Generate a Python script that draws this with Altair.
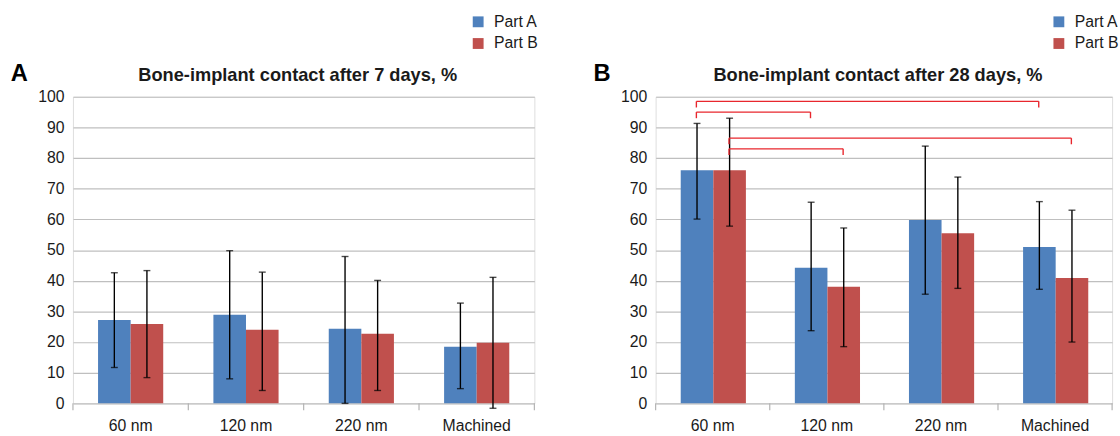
import altair as alt
import pandas as pd

FONT = "Liberation Sans"
TXT = "#1a1a1a"

categories = ["60 nm", "120 nm", "220 nm", "Machined"]
series = ["Part A", "Part B"]
colors = ["#4f81bd", "#c0504d"]

# 7 days
d7_a = [27.2, 28.9, 24.3, 18.5]
d7_a_lo = [11.7, 8.0, 0.0, 4.8]
d7_a_hi = [42.6, 49.8, 47.9, 32.7]
d7_b = [25.9, 24.0, 22.7, 19.8]
d7_b_lo = [8.4, 4.2, 4.2, -1.6]
d7_b_hi = [43.3, 42.8, 40.1, 41.1]

# 28 days
d28_a = [76.0, 44.2, 59.8, 51.0]
d28_a_lo = [60.1, 23.7, 35.6, 37.2]
d28_a_hi = [91.3, 65.6, 83.9, 65.8]
d28_b = [76.0, 38.0, 55.5, 40.9]
d28_b_lo = [57.8, 18.5, 37.5, 20.0]
d28_b_hi = [93.0, 57.2, 73.8, 63.0]

# significance brackets on day 28
br_from = ["60 nm", "60 nm", "60 nm", "60 nm"]
br_to = ["Machined", "120 nm", "Machined", "120 nm"]
br_series = ["Part A", "Part A", "Part B", "Part B"]
br_level = [98.5, 95.0, 86.5, 83.0]
br_drop = 2.0

H = 311
BAR_HALF = 0.143


def panel(a, a_lo, a_hi, b, b_lo, b_hi, title, letter, width, legend_x, brackets):
    rows = []
    for s, v, lo, hi in [(series[0], a, a_lo, a_hi), (series[1], b, b_lo, b_hi)]:
        for c, vv, l, h in zip(categories, v, lo, hi):
            rows.append({"cat": c, "series": s, "value": vv, "lo": l, "hi": h})
    df = pd.DataFrame(rows)

    yscale = alt.Scale(domain=[0, 100], nice=False, zero=True)
    yaxis = alt.Axis(values=list(range(0, 101, 10)), title=None, ticks=False, domain=False,
                     grid=True, gridColor="#bfbfbf", gridWidth=1.2, labelPadding=9,
                     labelFont=FONT, labelFontSize=16, labelColor=TXT)
    xscale = alt.Scale(paddingInner=0, paddingOuter=0)
    xaxis = alt.Axis(title=None, labelAngle=0, ticks=False, domain=False, grid=False,
                     labelPadding=15, labelFont=FONT, labelFontSize=16, labelColor=TXT)
    xenc = alt.X("cat:N", sort=categories, scale=xscale, axis=xaxis)
    xoff = alt.XOffset("series:N", sort=series, scale=alt.Scale(paddingInner=0, paddingOuter=0.77))

    base = alt.Chart(df)
    bars = base.mark_bar().encode(
        x=xenc, xOffset=xoff,
        y=alt.Y("value:Q", scale=yscale, axis=yaxis),
        color=alt.Color("series:N", scale=alt.Scale(domain=series, range=colors),
                        legend=alt.Legend(title=None, orient="none", legendX=legend_x, legendY=-84,
                                          symbolType="square", symbolSize=121, symbolStrokeWidth=0,
                                          labelFont=FONT, labelFontSize=16, labelColor=TXT,
                                          rowPadding=6, labelOffset=8, direction="vertical")),
    )
    err = base.mark_rule(color="black", strokeWidth=1.4).encode(
        x=xenc, xOffset=xoff, y=alt.Y("lo:Q", scale=yscale, axis=yaxis), y2="hi:Q")
    cap_lo = base.mark_tick(color="black", size=7, thickness=1.4, orient="horizontal").encode(
        x=xenc, xOffset=xoff, y=alt.Y("lo:Q", scale=yscale, axis=yaxis))
    cap_hi = base.mark_tick(color="black", size=7, thickness=1.4, orient="horizontal").encode(
        x=xenc, xOffset=xoff, y=alt.Y("hi:Q", scale=yscale, axis=yaxis))
    inner = alt.layer(bars, err, cap_lo, cap_hi)

    xq_scale = alt.Scale(domain=[0, 4], nice=False, zero=False)
    bounds = pd.DataFrame({"b": list(range(len(categories) + 1))})
    ticks = alt.Chart(bounds).mark_rule(color="#b3b3b3", strokeWidth=1.2).encode(
        x=alt.X("b:Q", scale=xq_scale, axis=None), y=alt.value(H), y2=alt.value(H + 7))

    letter_df = pd.DataFrame({"t": [letter]})
    let = alt.Chart(letter_df).mark_text(fontSize=24, fontWeight="bold", font=FONT, color="black",
                                         align="left", baseline="middle").encode(
        text="t:N", x=alt.value(-63), y=alt.value(-23))

    title_df = pd.DataFrame({"t": [title]})
    ttl = alt.Chart(title_df).mark_text(fontSize=18.5, fontWeight="bold", font=FONT, color=TXT,
                                        align="center", baseline="alphabetic").encode(
        text="t:N", x=alt.value(width / 2 - 6), y=alt.value(-16))

    layers = [inner, ticks]
    if brackets:
        def center(cat, s):
            return categories.index(cat) + 0.5 + (-BAR_HALF if s == series[0] else BAR_HALF)
        hrows, vrows = [], []
        for f, t, s, lv in zip(br_from, br_to, br_series, br_level):
            x1, x2 = center(f, s), center(t, s)
            hrows.append({"x": x1, "x2": x2, "y": lv})
            vrows.append({"x": x1, "y": lv, "y2": lv - br_drop})
            vrows.append({"x": x2, "y": lv, "y2": lv - br_drop})
        hdf = pd.DataFrame(hrows)
        vdf = pd.DataFrame(vrows)
        hl = alt.Chart(hdf).mark_rule(color="#e8262d", strokeWidth=1.4).encode(
            x=alt.X("x:Q", scale=xq_scale, axis=None), x2="x2:Q",
            y=alt.Y("y:Q", scale=yscale, axis=yaxis))
        vl = alt.Chart(vdf).mark_rule(color="#e8262d", strokeWidth=1.4).encode(
            x=alt.X("x:Q", scale=xq_scale, axis=None),
            y=alt.Y("y:Q", scale=yscale, axis=yaxis), y2="y2:Q")
        layers += [hl, vl]
    layers += [let, ttl]

    return alt.layer(*layers).resolve_scale(x="independent").properties(width=width, height=H)


left = panel(d7_a, d7_a_lo, d7_a_hi, d7_b, d7_b_lo, d7_b_hi,
             "Bone-implant contact after 7 days, %", "A", 468, 403, False)
right = panel(d28_a, d28_a_lo, d28_a_hi, d28_b, d28_b_lo, d28_b_hi,
              "Bone-implant contact after 28 days, %", "B", 463, 401, True)

chart = alt.hconcat(left, right, spacing=54).resolve_scale(color="independent").resolve_legend(
    color="independent"
).properties(
    padding={"left": 10, "top": 10, "right": 0, "bottom": 0}
).configure_view(stroke="#b3b3b3", strokeWidth=1.2).configure(background="white")

chart.save("out.html", embed_options={"renderer": "svg", "actions": False})
